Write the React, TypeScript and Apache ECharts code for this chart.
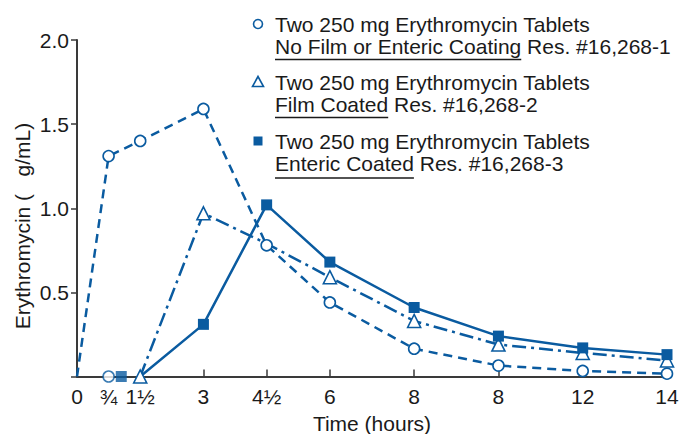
import React, { useEffect, useRef } from "react";
import * as echarts from "echarts";

const hours = [0, 0.75, 1.5, 3, 4.5, 6, 8, 10, 12, 14];
const tickLabels: Record<string, string> = {
  "0": "0", "0.75": "¾", "1.5": "1½", "3": "3", "4.5": "4½",
  "6": "6", "8": "8", "10": "8", "12": "12", "14": "14",
};
const tickHours = [3, 4.5, 6, 8, 10, 12, 14];

const seriesNames = [
  "No Film or Enteric Coating",
  "Film Coated",
  "Enteric Coated",
];
const resNumbers = ["Res. #16,268-1", "Res. #16,268-2", "Res. #16,268-3"];
const legendHead = "Two 250 mg Erythromycin Tablets";

const noFilm = [0, 1.31, 1.40, 1.59, 0.78, 0.44, 0.165, 0.065, 0.033, 0.017];
const filmCoated = [null, null, 0, 0.97, 0.79, 0.59, 0.33, 0.19, 0.14, 0.095];
const enteric = [null, null, 0, 0.31, 1.02, 0.68, 0.41, 0.24, 0.17, 0.13];
const noMarkerNoFilm = [0];
const noMarkerFilm = [4];
const noMarkerEnteric = [2];
const baselineCircle = [[0.75, 0]];
const baselineSquare = [[1.05, 0]];

const BLUE = "#0a5ba0";
const INK = "#1a1a1a";
const FONT = "'Liberation Sans', Arial, sans-serif";
const FS = 21;

function build(vals: (number | null)[], hidden: number[]) {
  return hours
    .map((h, i) => ({ h, v: vals[i], i }))
    .filter((d) => d.v !== null)
    .map((d) =>
      hidden.includes(d.i)
        ? { value: [d.h, d.v], symbol: "none" }
        : { value: [d.h, d.v] }
    );
}

function measure(text: string) {
  const c = document.createElement("canvas").getContext("2d")!;
  c.font = `${FS}px 'Liberation Sans'`;
  return c.measureText(text).width;
}

export default function App() {
  const ref = useRef<HTMLDivElement>(null);
  useEffect(() => {
    if (!ref.current) return;
    const chart = echarts.init(ref.current, undefined, { renderer: "svg" });

    const legendX = 275;
    const entryY = [24, 82, 141];
    const underlineY = [59.5, 117.5, 178];
    const graphics: any[] = [];
    const markerShapes = ["circle", "triangle", "square"];
    entryY.forEach((y, k) => {
      const mx = 258;
      if (markerShapes[k] === "circle") {
        graphics.push({ type: "circle", shape: { cx: mx, cy: y, r: 4.5 }, style: { fill: "#fff", stroke: BLUE, lineWidth: 1.6 } });
      } else if (markerShapes[k] === "triangle") {
        graphics.push({ type: "polygon", shape: { points: [[mx, y - 5.5], [mx - 5.5, y + 4.5], [mx + 5.5, y + 4.5]] }, style: { fill: "#fff", stroke: BLUE, lineWidth: 1.6 } });
      } else {
        graphics.push({ type: "rect", shape: { x: mx - 4.5, y: y - 4.5, width: 9, height: 9 }, style: { fill: BLUE } });
      }
      graphics.push({ type: "text", x: legendX, y, style: { text: legendHead, font: `${FS}px ${FONT}`, fill: INK, verticalAlign: "middle", textAlign: "left" } });
      graphics.push({ type: "text", x: legendX, y: y + 22, style: { text: `${seriesNames[k]} ${resNumbers[k]}`, font: `${FS}px ${FONT}`, fill: INK, verticalAlign: "middle", textAlign: "left" } });
      const w = measure(seriesNames[k]);
      graphics.push({ type: "line", shape: { x1: legendX, y1: underlineY[k], x2: legendX + w, y2: underlineY[k] }, style: { stroke: INK, lineWidth: 1.5 } });
    });
    graphics.push({
      type: "text", x: 22, y: 226, rotation: Math.PI / 2,
      style: { text: "Erythromycin (   g/mL)", font: `${FS}px ${FONT}`, fill: INK, textAlign: "center", verticalAlign: "middle" },
    });

    const lineCommon = { type: "line", showSymbol: true, symbolKeepAspect: true, z: 3 };

    chart.setOption({
      animation: false,
      backgroundColor: "#fff",
      textStyle: { fontFamily: FONT },
      grid: { left: 77, right: 14, top: 40, bottom: 57.5, outerBoundsMode: "none" },
      xAxis: {
        type: "value", min: 0, max: 14,
        name: "Time (hours)", nameLocation: "middle", nameGap: 36,
        nameTextStyle: { fontSize: FS, color: INK, fontFamily: FONT },
        axisLine: { lineStyle: { color: "#3a3a3a", width: 2 } },
        axisTick: { show: true, inside: true, length: 7, customValues: tickHours, lineStyle: { color: "#3a3a3a", width: 1.5 } },
        axisLabel: {
          customValues: hours, fontSize: FS, color: INK, margin: 9, fontFamily: FONT,
          formatter: (v: number) => tickLabels[String(v)] ?? "",
        },
        splitLine: { show: false },
      },
      yAxis: {
        type: "value", min: 0, max: 2, interval: 0.5,
        axisLine: { show: true, lineStyle: { color: "#3a3a3a", width: 2 } },
        axisTick: { show: true, inside: false, length: 6, lineStyle: { color: "#3a3a3a", width: 1.5 } },
        axisLabel: { fontSize: FS, color: INK, margin: 8, fontFamily: FONT, formatter: (v: number) => (v === 0 ? "" : v.toFixed(1)) },
        splitLine: { show: false },
      },
      graphic: graphics,
      series: [
        {
          ...lineCommon, name: seriesNames[0], data: build(noFilm, noMarkerNoFilm),
          symbol: "circle", symbolSize: 11,
          lineStyle: { color: BLUE, width: 2.5, type: [9, 6] },
          itemStyle: { color: "#fff", borderColor: BLUE, borderWidth: 1.6 },
        },
        {
          ...lineCommon, name: seriesNames[1], data: build(filmCoated, noMarkerFilm),
          symbol: "triangle", symbolSize: 13,
          lineStyle: { color: BLUE, width: 2.5, type: [14, 5, 3, 5] },
          itemStyle: { color: "#fff", borderColor: BLUE, borderWidth: 1.6 },
        },
        {
          ...lineCommon, name: seriesNames[2], data: build(enteric, noMarkerEnteric),
          symbol: "rect", symbolSize: 11,
          lineStyle: { color: BLUE, width: 2.5 },
          itemStyle: { color: BLUE },
        },
        {
          type: "scatter", name: "baseline-circle", data: baselineCircle, symbol: "circle", symbolSize: 11, z: 4,
          itemStyle: { color: "#fff", borderColor: BLUE, borderWidth: 1.6 },
        },
        {
          type: "scatter", name: "baseline-square", data: baselineSquare, symbol: "rect", symbolSize: 11, z: 4,
          itemStyle: { color: BLUE },
        },
      ],
    });
    return () => chart.dispose();
  }, []);
  return <div ref={ref} style={{ position: "fixed", left: 0, top: 0, width: 681, height: 434 }} />;
}
